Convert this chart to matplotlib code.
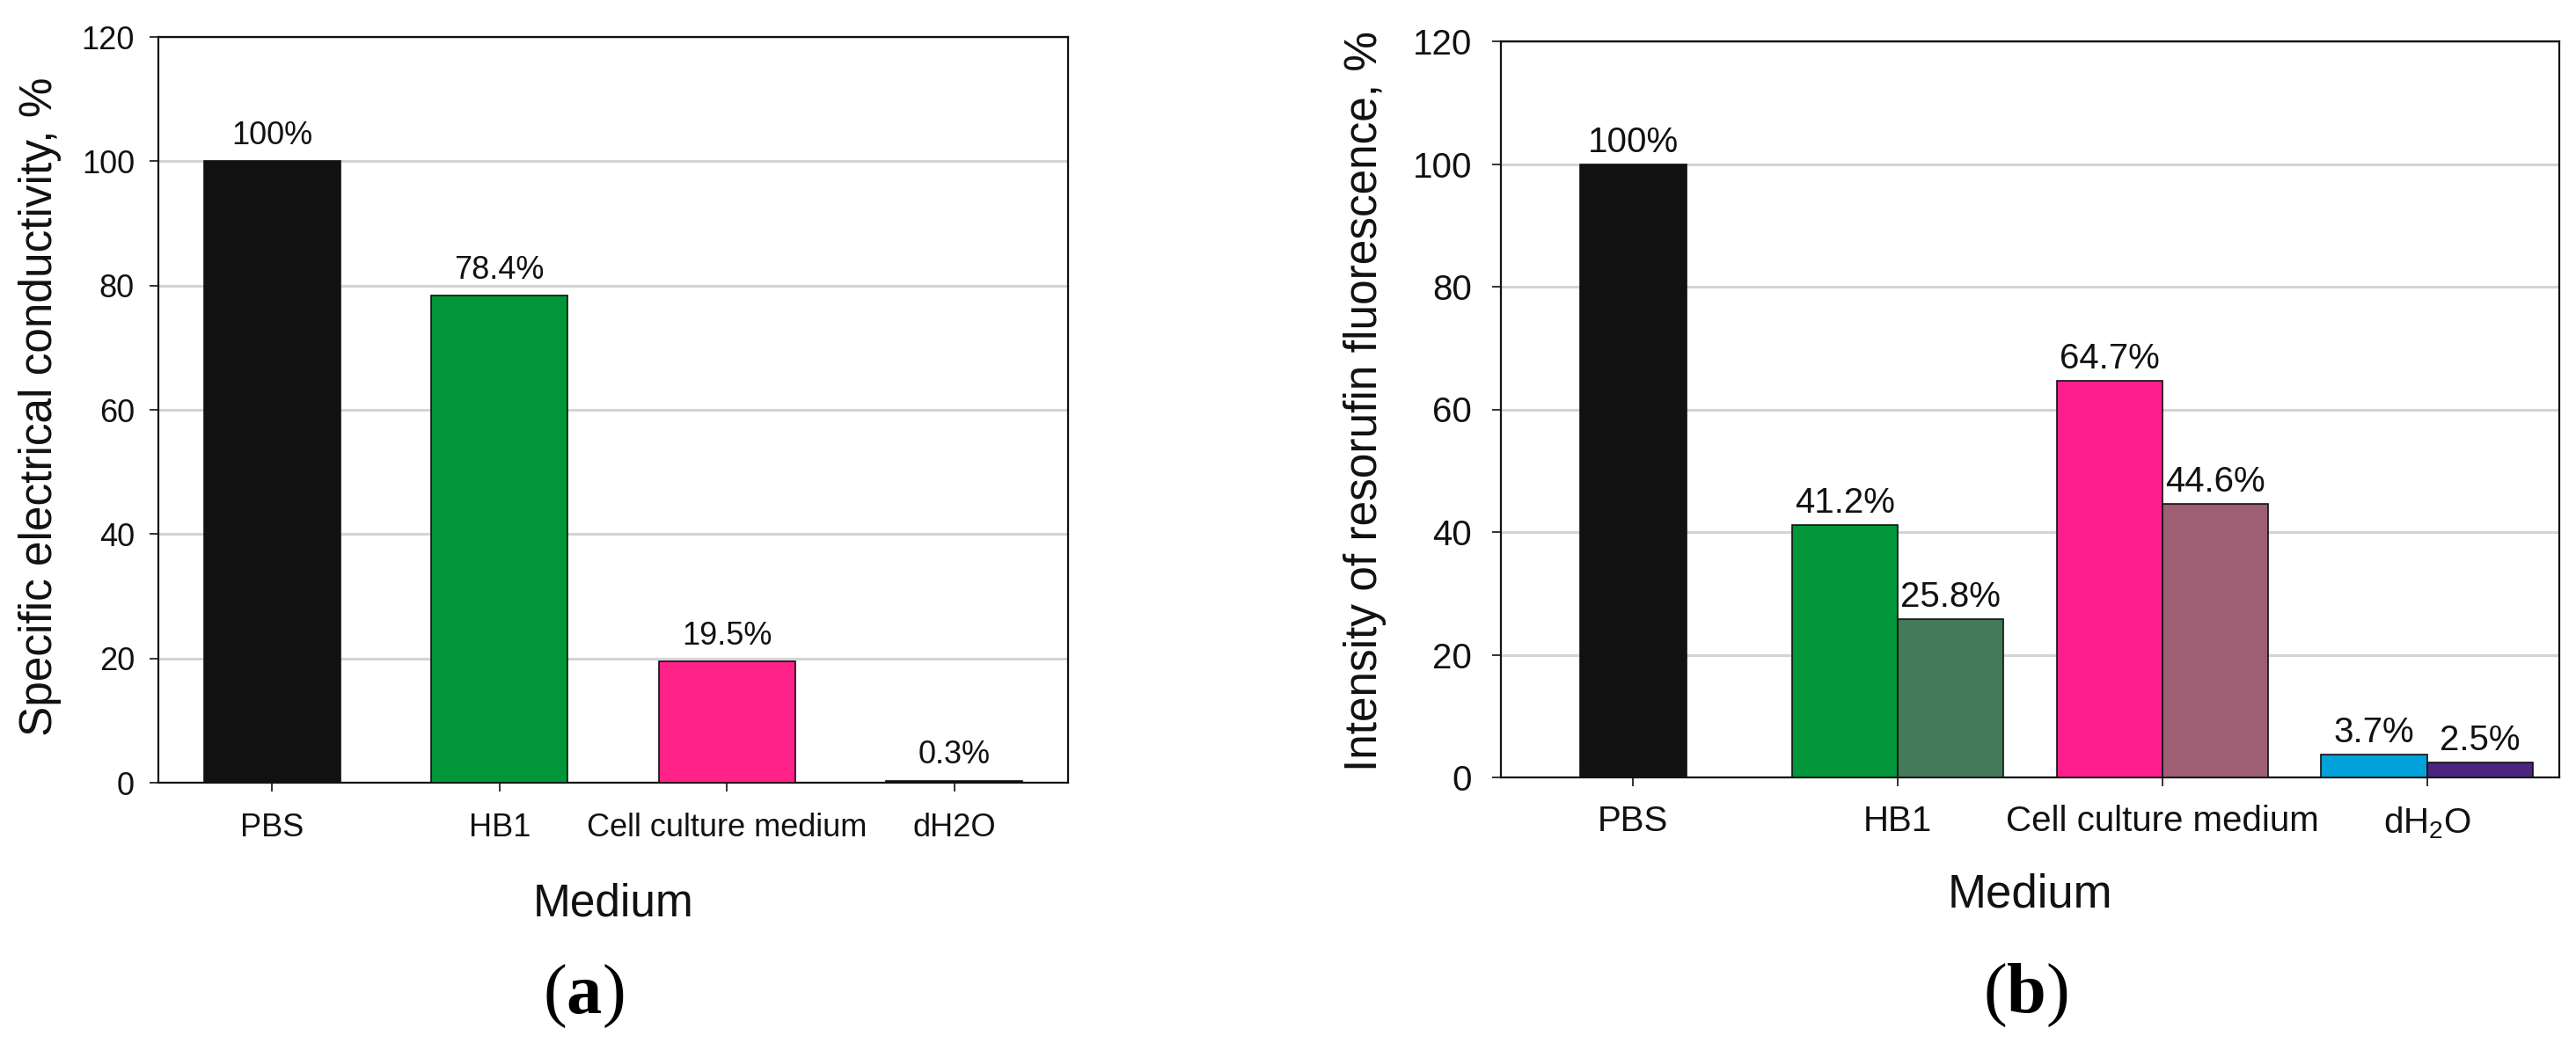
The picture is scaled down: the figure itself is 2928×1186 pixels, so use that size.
import numpy as np
import matplotlib
matplotlib.use('Agg')
import matplotlib.pyplot as plt

plt.rcParams['font.family'] = ['Liberation Sans', 'DejaVu Sans']
plt.rcParams['mathtext.fontset'] = 'custom'
plt.rcParams['mathtext.rm'] = 'Liberation Sans'
plt.rcParams['mathtext.it'] = 'Liberation Sans:italic'
plt.rcParams['mathtext.bf'] = 'Liberation Serif:bold'

# panel (a): specific electrical conductivity
media_a = ["PBS", "HB1", "Cell culture medium", "dH2O"]
conductivity = [100, 78.4, 19.5, 0.3]
colors_a = ["#111111", "#009639", "#ff2289", "#111111"]

# panel (b): resorufin fluorescence, two bars per medium (PBS only one)
media_b = ["PBS", "HB1", "Cell culture medium", "dH$_2$O"]
fluor_first = [100, 41.2, 64.7, 3.7]
fluor_second = [None, 25.8, 44.6, 2.5]
colors_first = ["#111111", "#009639", "#ff1f8c", "#00a2d9"]
colors_second = [None, "#427a5a", "#9e5e74", "#4a2580"]

yticks = [0, 20, 40, 60, 80, 100, 120]

W, H = 2928, 1186
fig = plt.figure(figsize=(W / 100, H / 100), dpi=100)


def px_axes(left, top, right, bottom):
    return fig.add_axes([left / W, 1 - bottom / H, (right - left) / W, (bottom - top) / H])


def style_axes(ax, fs, xpad, ypad):
    ax.set_ylim(0, 120)
    ax.set_xlim(-0.5, 3.5)
    ax.set_yticks(yticks)
    ax.set_axisbelow(True)
    ax.yaxis.grid(True, color="#d4d4d4", linewidth=2.2)
    for sp in ax.spines.values():
        sp.set_linewidth(1.6)
        sp.set_color("#111111")
    ax.tick_params(axis='both', direction='out', length=7.5, width=1.2,
                   labelsize=fs, colors="#111111", top=False, right=False)
    ax.tick_params(axis='x', pad=xpad)
    ax.tick_params(axis='y', pad=ypad)


# ---- panel (a)
ax_a = px_axes(180, 42, 1214, 890)
xa = np.arange(len(media_a))
bars = ax_a.bar(xa, conductivity, width=0.6, color=colors_a,
                edgecolor="#111111", linewidth=1.2, zorder=3)
for x, v in zip(xa, conductivity):
    ax_a.annotate("%g%%" % v, (x, v), xytext=(0, 14), textcoords='offset points',
                  ha='center', va='baseline', fontsize=26, color="#111111")
ax_a.set_xticks(xa)
ax_a.set_xticklabels(media_a)
style_axes(ax_a, 26, 17, 12)

# ---- panel (b)
ax_b = px_axes(1706, 47, 2909, 884)
xb = np.arange(len(media_b))
for i in xb:
    if fluor_second[i] is None:
        pos = [(i, fluor_first[i], colors_first[i])]
    else:
        pos = [(i - 0.2, fluor_first[i], colors_first[i]),
               (i + 0.2, fluor_second[i], colors_second[i])]
    for x, v, c in pos:
        ax_b.bar(x, v, width=0.4, color=c, edgecolor="#111111",
                 linewidth=1.2, zorder=3)
        ax_b.annotate("%g%%" % v, (x, v), xytext=(0, 10), textcoords='offset points',
                      ha='center', va='baseline', fontsize=29, color="#111111")
ax_b.set_xticks(xb)
ax_b.set_xticklabels(media_b)
style_axes(ax_b, 29, 15, 16)

# ---- axis titles and panel letters
def ftext(x, y, s, **kw):
    fig.text(x / W, 1 - y / H, s, ha='center', va='center', **kw)


ftext(46, 462, "Specific electrical conductivity, %", rotation=90, fontsize=37, color="#111111")
ftext(1552, 456, "Intensity of resorufin fluorescence, %", rotation=90, fontsize=37, color="#111111")
ftext(697, 1028, "Medium", fontsize=37, color="#111111")
ftext(2307, 1018, "Medium", fontsize=38, color="#111111")
ftext(663, 1133, r"($\mathbf{a}$)", fontsize=58, family="Liberation Serif")
ftext(2302, 1132, r"($\mathbf{b}$)", fontsize=58, family="Liberation Serif")

fig.savefig("out.png", dpi=100, facecolor="white")
